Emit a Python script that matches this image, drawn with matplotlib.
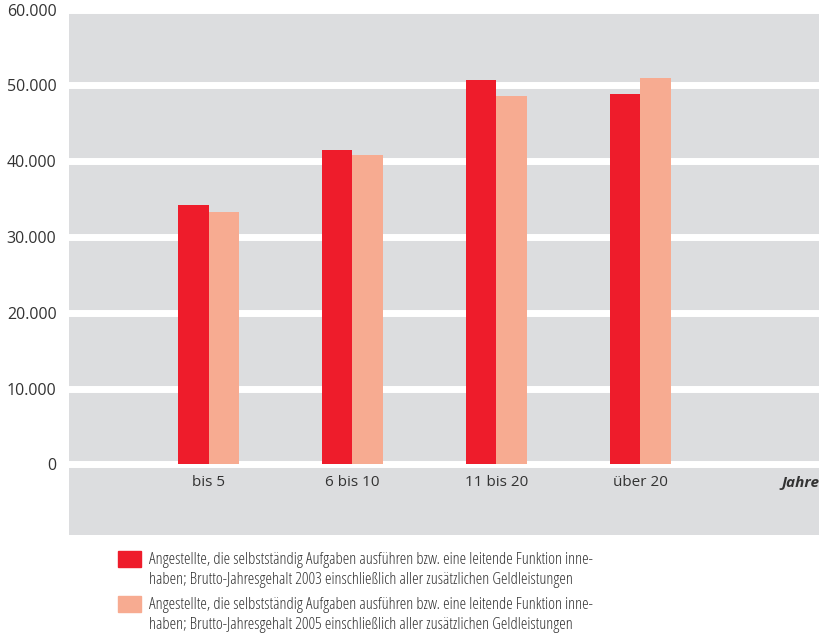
import matplotlib.pyplot as plt
from matplotlib.patches import Rectangle
from matplotlib.ticker import FuncFormatter

# ---------------------------------------------------------
# Data
# ---------------------------------------------------------
categories = ["bis 5", "6 bis 10", "11 bis 20", "über 20"]
gehalt_2003 = [34200, 41500, 50700, 48900]
gehalt_2005 = [33300, 40800, 48600, 51000]
y_ticks = [0, 10000, 20000, 30000, 40000, 50000, 60000]
legend_labels = [
    "Angestellte, die selbstständig Aufgaben ausführen bzw. eine leitende Funktion inne-\n"
    "haben; Brutto-Jahresgehalt 2003 einschließlich aller zusätzlichen Geldleistungen",
    "Angestellte, die selbstständig Aufgaben ausführen bzw. eine leitende Funktion inne-\n"
    "haben; Brutto-Jahresgehalt 2005 einschließlich aller zusätzlichen Geldleistungen",
]

RED = "#EE1C2B"
PEACH = "#F7AB91"
GRAY = "#DCDDDF"
TEXT = "#333333"

plt.rcParams['font.family'] = ['Open Sans', 'DejaVu Sans']

W, H = 820, 638
fig = plt.figure(figsize=(W / 100, H / 100), dpi=100)

# axes placement in pixels: left 69, right 820, top 9.7 (60k), bottom 535
ax = fig.add_axes([69 / W, 1 - 535 / H, (820 - 69) / W, (535 - 9.7) / H])
ax.set_facecolor(GRAY)
for s in ax.spines.values():
    s.set_visible(False)

x = list(range(len(categories)))
bw = 0.212
ax.bar([i - bw / 2 for i in x], gehalt_2003, width=bw, color=RED, zorder=3)
ax.bar([i + bw / 2 for i in x], gehalt_2005, width=bw, color=PEACH, zorder=3)

ax.set_xlim(-0.969, 4.247)
ax.set_ylim(-9314, 60000)
ax.set_yticks(y_ticks)
ax.yaxis.set_major_formatter(FuncFormatter(lambda v, p: f"{int(v):,}".replace(",", ".")))
ax.grid(axis='y', color='white', linewidth=5, zorder=1)
ax.set_axisbelow(True)
ax.tick_params(axis='y', length=0, pad=9, labelsize=11.5, labelcolor=TEXT)
ax.set_xticks([])

for i, c in enumerate(categories):
    ax.text(i, -2400, c, ha='center', va='center', fontsize=11, color=TEXT)
ax.text(3.982, -2400, "Jahre", ha='left', va='center', fontsize=11,
        color=TEXT, fontstyle='italic', fontweight='bold')

# ---------------------------------------------------------
# Legend
# ---------------------------------------------------------
for k, (lab, col) in enumerate(zip(legend_labels, [RED, PEACH])):
    y0 = 551 + k * 45
    fig.patches.append(Rectangle((118 / W, 1 - (y0 + 16) / H), 23 / W, 16 / H,
                                 transform=fig.transFigure, color=col))
    fig.text(149 / W, 1 - (y0 + 1) / H, lab, ha='left', va='top', fontsize=12,
             color=TEXT, linespacing=1.36, fontstretch='condensed')

fig.savefig("out.png", dpi=100)
